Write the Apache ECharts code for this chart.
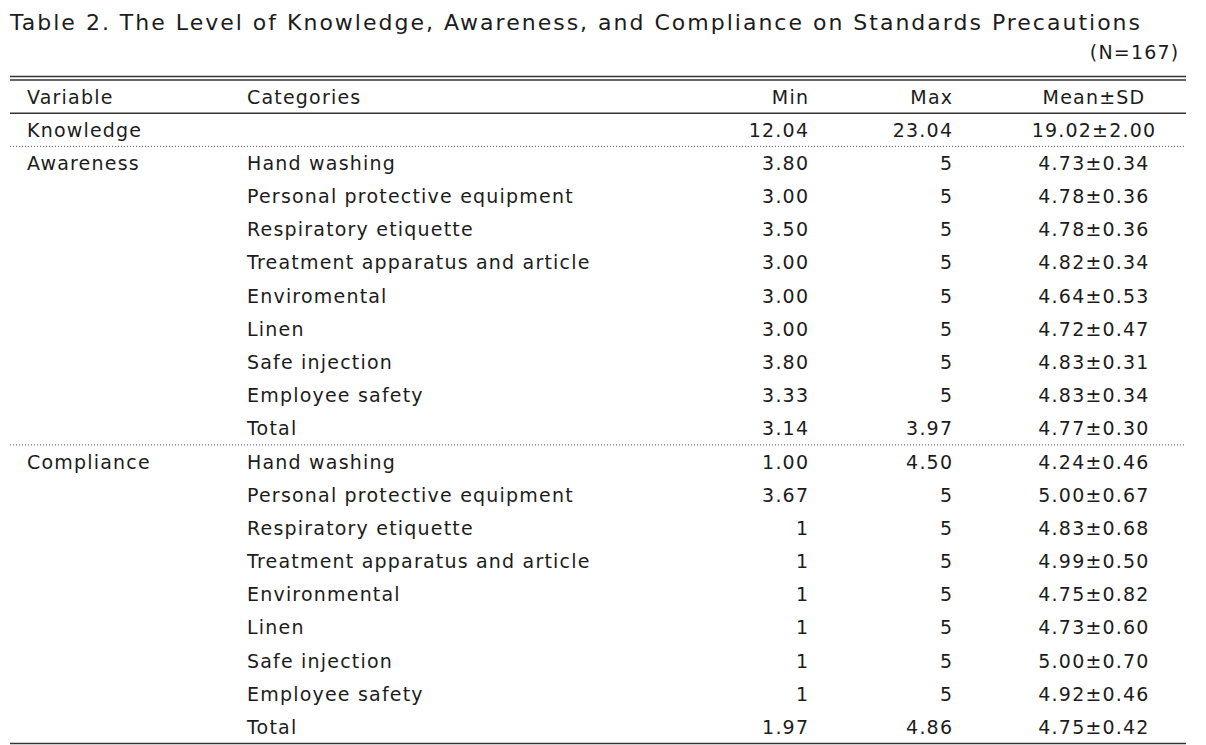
<!DOCTYPE html>
<html>
<head>
<meta charset="utf-8">
<script src="https://cdn.jsdelivr.net/npm/echarts@6/dist/echarts.min.js"></script>
<style>
html,body{margin:0;padding:0;background:#fff;}
#chart{width:1206px;height:745px;}
#chart text{letter-spacing:1.2px;}
#chart text[style*="22px"]{letter-spacing:2px;}
</style>
</head>
<body>
<div id="chart"></div>
<script>
// ---------- data ----------
const tableTitle = 'Table 2. The Level of Knowledge, Awareness, and Compliance on Standards Precautions';
const sampleNote = '(N=167)';
const headers = ['Variable', 'Categories', 'Min', 'Max', 'Mean±SD'];

const knowledgeMin = '12.04';
const knowledgeMax = '23.04';
const knowledgeMean = 19.02;
const knowledgeSD = 2.00;

const awarenessCategories = ['Hand washing', 'Personal protective equipment', 'Respiratory etiquette', 'Treatment apparatus and article', 'Enviromental', 'Linen', 'Safe injection', 'Employee safety', 'Total'];
const awarenessMin = ['3.80', '3.00', '3.50', '3.00', '3.00', '3.00', '3.80', '3.33', '3.14'];
const awarenessMax = ['5', '5', '5', '5', '5', '5', '5', '5', '3.97'];
const awarenessMean = [4.73, 4.78, 4.78, 4.82, 4.64, 4.72, 4.83, 4.83, 4.77];
const awarenessSD = [0.34, 0.36, 0.36, 0.34, 0.53, 0.47, 0.31, 0.34, 0.30];

const complianceCategories = ['Hand washing', 'Personal protective equipment', 'Respiratory etiquette', 'Treatment apparatus and article', 'Environmental', 'Linen', 'Safe injection', 'Employee safety', 'Total'];
const complianceMin = ['1.00', '3.67', '1', '1', '1', '1', '1', '1', '1.97'];
const complianceMax = ['4.50', '5', '5', '5', '5', '5', '5', '5', '4.86'];
const complianceMean = [4.24, 5.00, 4.83, 4.99, 4.75, 4.73, 5.00, 4.92, 4.75];
const complianceSD = [0.46, 0.67, 0.68, 0.50, 0.82, 0.60, 0.70, 0.46, 0.42];

// ---------- build table rows ----------
function ms(m, s) { return m.toFixed(2) + '±' + s.toFixed(2); }
const rows = [];
rows.push(headers.slice());
rows.push(['Knowledge', '', knowledgeMin, knowledgeMax, ms(knowledgeMean, knowledgeSD)]);
awarenessCategories.forEach((c, i) => rows.push([i === 0 ? 'Awareness' : '', c, awarenessMin[i], awarenessMax[i], ms(awarenessMean[i], awarenessSD[i])]));
complianceCategories.forEach((c, i) => rows.push([i === 0 ? 'Compliance' : '', c, complianceMin[i], complianceMax[i], ms(complianceMean[i], complianceSD[i])]));
const cellData = rows.map((r, i) => [i].concat(r));

// rules: boundary position (in row units) and style
const lastRow = rows.length - 1;
const afterAwareness = 1 + awarenessCategories.length;
const ruleData = [[-0.5, 'double'], [0.5, 'solid'], [1.5, 'dotted'], [afterAwareness + 0.5, 'dotted'], [lastRow + 0.5, 'bottom']];

// ---------- layout ----------
const X_MAX = 1176;
const LS = 1.2;
const colAnchor = [17, 237, 798 + LS, 942 + LS, 1084];
const colAlign = ['left', 'left', 'right', 'right', 'center'];
const FONT_FAMILY = '"DejaVu Sans", sans-serif';
const textColor = '#1c1c1c';

const chart = echarts.init(document.getElementById('chart'), null, { renderer: 'svg' });
chart.setOption({
  animation: false,
  backgroundColor: '#ffffff',
  title: [
    { text: tableTitle, left: 10, top: 11, padding: 0,
      textStyle: { fontFamily: FONT_FAMILY, fontSize: 22, fontWeight: 'normal', color: textColor, lineHeight: 22 } },
    { text: sampleNote, right: 35, top: 42, padding: 0,
      textStyle: { fontFamily: FONT_FAMILY, fontSize: 19, fontWeight: 'normal', color: textColor, lineHeight: 20 } }
  ],
  grid: { left: 10, right: 20, top: 80, bottom: 1.5, containLabel: false },
  xAxis: { type: 'value', min: 0, max: X_MAX, show: false },
  yAxis: { type: 'value', min: -0.5, max: lastRow + 0.5, inverse: true, show: false },
  series: [
    {
      type: 'custom',
      silent: true,
      data: ruleData,
      encode: { y: 0 },
      renderItem: function (params, api) {
        const y = api.value(0);
        const kind = ruleData[params.dataIndex][1];
        const p0 = api.coord([0, y]);
        const p1 = api.coord([X_MAX, y]);
        if (kind === 'double') {
          return { type: 'group', children: [
            { type: 'line', shape: { x1: p0[0], y1: p0[1] - 3.5, x2: p1[0], y2: p1[1] - 3.5 }, style: { stroke: '#333', lineWidth: 1.4 } },
            { type: 'line', shape: { x1: p0[0], y1: p0[1], x2: p1[0], y2: p1[1] }, style: { stroke: '#333', lineWidth: 1.4 } }
          ] };
        }
        if (kind === 'dotted') {
          return { type: 'line', shape: { x1: p0[0], y1: p0[1], x2: p1[0], y2: p1[1] }, style: { stroke: '#555', lineWidth: 1, lineDash: [1, 2] } };
        }
        return { type: 'line', shape: { x1: p0[0], y1: p0[1], x2: p1[0], y2: p1[1] }, style: { stroke: '#333', lineWidth: kind === 'bottom' ? 1.6 : 1.4 } };
      }
    },
    {
      type: 'custom',
      silent: true,
      data: cellData,
      encode: { y: 0 },
      renderItem: function (params, api) {
        const r = cellData[params.dataIndex];
        const rowIdx = r[0];
        const children = [];
        for (let c = 0; c < 5; c++) {
          const txt = r[c + 1];
          if (!txt) continue;
          const p = api.coord([colAnchor[c], rowIdx]);
          children.push({
            type: 'text', x: p[0], y: p[1],
            style: { text: txt, fill: textColor, fontSize: 19, fontFamily: FONT_FAMILY, align: colAlign[c], verticalAlign: 'middle' }
          });
        }
        return { type: 'group', children: children };
      }
    }
  ]
});
</script>
</body>
</html>
